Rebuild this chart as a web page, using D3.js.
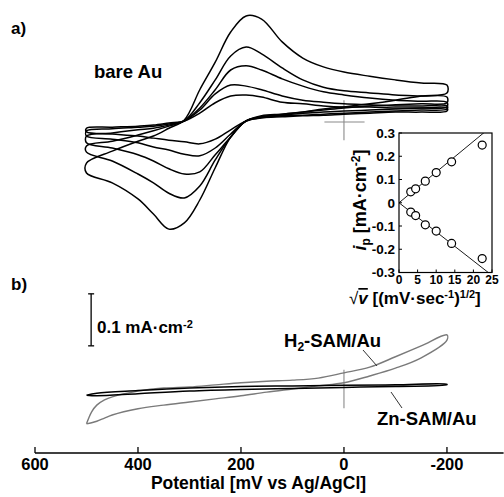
<!DOCTYPE html>
<html><head><meta charset="utf-8">
<script src="https://cdn.jsdelivr.net/npm/d3@7"></script>
<style>
html,body{margin:0;padding:0;background:#fff;}
text{font-family:"Liberation Sans",Arial,Helvetica,sans-serif;font-weight:bold;fill:#000;}
</style></head>
<body>
<svg id="chart" width="504" height="497"></svg>
<script>
// ---------- DATA ----------
// panel a) bare Au CVs, potential grid (mV) and current density (mA/cm2)
const eTop = [500, 450, 400, 370, 340, 310, 280, 250, 220, 190, 160, 120, 80, 40, 0, -50, -100, -150, -200];
const cv1Fwd = [-0.079,-0.056,-0.037,-0.027,-0.012,0.004,0.062,0.115,0.173,0.204,0.198,0.154,0.123,0.106,0.096,0.088,0.081,0.075,0.071];
const cv1Rev = [-0.098,-0.117,-0.148,-0.177,-0.206,-0.194,-0.150,-0.088,-0.029,0.002,0.010,0.015,0.019,0.025,0.029,0.035,0.042,0.050,0.056];
const cv2Fwd = [-0.046,-0.037,-0.025,-0.017,-0.008,0.002,0.037,0.081,0.127,0.144,0.131,0.104,0.081,0.067,0.060,0.056,0.052,0.050,0.048];
const cv2Rev = [-0.058,-0.075,-0.100,-0.117,-0.137,-0.146,-0.123,-0.073,-0.029,0.002,0.012,0.015,0.019,0.023,0.027,0.031,0.033,0.035,0.037];
const cv3Fwd = [-0.027,-0.021,-0.015,-0.012,-0.006,0.002,0.027,0.062,0.100,0.108,0.100,0.083,0.069,0.058,0.052,0.046,0.042,0.040,0.038];
const cv3Rev = [-0.040,-0.050,-0.063,-0.075,-0.090,-0.100,-0.096,-0.063,-0.029,0.002,0.010,0.013,0.017,0.019,0.021,0.023,0.025,0.027,0.029];
const cv4Fwd = [-0.017,-0.013,-0.010,-0.008,-0.004,0.002,0.023,0.054,0.071,0.069,0.062,0.050,0.042,0.038,0.035,0.033,0.031,0.031,0.031];
const cv4Rev = [-0.027,-0.033,-0.040,-0.048,-0.054,-0.062,-0.065,-0.050,-0.023,0.002,0.008,0.012,0.013,0.015,0.017,0.019,0.021,0.023,0.025];
const cv5Fwd = [-0.012,-0.010,-0.008,-0.006,-0.002,0.002,0.017,0.037,0.050,0.052,0.048,0.038,0.035,0.031,0.029,0.029,0.027,0.027,0.027];
const cv5Rev = [-0.019,-0.023,-0.027,-0.031,-0.035,-0.038,-0.042,-0.033,-0.015,0.002,0.008,0.010,0.012,0.013,0.015,0.017,0.019,0.019,0.021];

// panel b) SAM-modified electrodes
const eH2 = [500, 490, 480, 465, 450, 400, 350, 300, 250, 200, 150, 100, 50, 0, -50, -100, -150, -200];
const h2Fwd = [-0.067,-0.044,-0.031,-0.021,-0.015,-0.004,0.002,0.004,0.008,0.012,0.015,0.017,0.021,0.031,0.042,0.062,0.083,0.104];
const h2Rev = [-0.067,-0.065,-0.062,-0.056,-0.050,-0.038,-0.031,-0.025,-0.019,-0.013,-0.006,0.000,0.006,0.012,0.025,0.040,0.060,0.094];
const eZn = [500, 480, 400, 300, 200, 100, 0, -100, -200];
const znFwd = [-0.012,-0.008,-0.003,0.002,0.005,0.006,0.007,0.008,0.009];
const znRev = [-0.012,-0.013,-0.009,-0.004,-0.001,0.001,0.003,0.005,0.008];

// inset: peak current vs sqrt(scan rate)
const sqrtV = [3.16, 4.47, 7.07, 10, 14.14, 22.36];
const ipAnodic = [0.047, 0.060, 0.093, 0.130, 0.176, 0.248];
const ipCathodic = [-0.040, -0.055, -0.095, -0.122, -0.175, -0.240];
const fitSlopes = [0.0132, -0.0125];

// axis ticks
const xTicks = [600, 400, 200, 0, -200];
const xTickLabels = ["600", "400", "200", "0", "-200"];
const insetXTicks = [0, 5, 10, 15, 20, 25];
const insetYTicks = [0.3, 0.2, 0.1, 0, -0.1, -0.2, -0.3];
const insetYTickLabels = ["0.3", "0.2", "0.1", "0", "-0.1", "-0.2", "-0.3"];

// ---------- DRAW ----------
const svg = d3.select("#chart");
const x = d3.scaleLinear().domain([600, -310]).range([35, 503.6]);
const yA = d3.scaleLinear().domain([-0.1, 0.1]).range([174, 70]);
const yB = d3.scaleLinear().domain([-0.1, 0.1]).range([441, 337]);

// crosshairs (zero reference)
const cross = svg.append("g").attr("stroke", "#8a8a8a").attr("stroke-width", 1.1);
cross.append("line").attr("x1", x(38)).attr("x2", x(-40)).attr("y1", yA(0)).attr("y2", yA(0));
cross.append("line").attr("x1", x(0)).attr("x2", x(0)).attr("y1", yA(0.042)).attr("y2", yA(-0.035));
cross.append("line").attr("x1", x(0)).attr("x2", x(0)).attr("y1", yB(0.037)).attr("y2", yB(-0.037));

// panel a curves
const loopA = d3.line().x(d => x(d[0])).y(d => yA(d[1])).curve(d3.curveCatmullRomClosed.alpha(0.5));
const cvs = [[cv1Fwd, cv1Rev], [cv2Fwd, cv2Rev], [cv3Fwd, cv3Rev], [cv4Fwd, cv4Rev], [cv5Fwd, cv5Rev]];
cvs.forEach(([f, r]) => {
  const pts = eTop.map((e, i) => [e, f[i]]).concat(eTop.map((e, i) => [e, r[i]]).reverse());
  svg.append("path").attr("d", loopA(pts)).attr("fill", "none").attr("stroke", "#000").attr("stroke-width", 1.5);
});

// panel b curves
const lineB = d3.line().x(d => x(d[0])).y(d => yB(d[1])).curve(d3.curveCatmullRom.alpha(0.5));
const h2Pts = eH2.map((e, i) => [e, h2Fwd[i]]).concat(eH2.map((e, i) => [e, h2Rev[i]]).reverse());
svg.append("path").attr("d", lineB(h2Pts)).attr("fill", "none").attr("stroke", "#7a7a7a").attr("stroke-width", 1.4);
const znPts = eZn.map((e, i) => [e, znFwd[i]]).concat(eZn.map((e, i) => [e, znRev[i]]).reverse());
svg.append("path").attr("d", lineB(znPts)).attr("fill", "none").attr("stroke", "#000").attr("stroke-width", 1.5);

// leader lines
svg.append("line").attr("x1", 363).attr("y1", 350).attr("x2", 377).attr("y2", 366).attr("stroke", "#333").attr("stroke-width", 1);
svg.append("line").attr("x1", 391).attr("y1", 392).attr("x2", 402).attr("y2", 408).attr("stroke", "#333").attr("stroke-width", 1);

// scale bar 0.1 mA cm-2
const sb = svg.append("g").attr("stroke", "#000").attr("stroke-width", 1.3);
const sbE = 491;
sb.append("line").attr("x1", x(sbE)).attr("x2", x(sbE)).attr("y1", yB(0.183)).attr("y2", yB(0.083));
sb.append("line").attr("x1", x(sbE) - 3).attr("x2", x(sbE) + 3).attr("y1", yB(0.183)).attr("y2", yB(0.183));
sb.append("line").attr("x1", x(sbE) - 3).attr("x2", x(sbE) + 3).attr("y1", yB(0.083)).attr("y2", yB(0.083));
const sbt = svg.append("text").attr("x", 97).attr("y", 333).attr("font-size", 17);
sbt.append("tspan").text("0.1 mA\u00b7cm");
sbt.append("tspan").attr("font-size", 11).attr("dy", -5).text("-2");

// main x axis
const ax = svg.append("g");
ax.append("line").attr("x1", x(600)).attr("x2", x(-310)).attr("y1", 453).attr("y2", 453).attr("stroke", "#000").attr("stroke-width", 1.3);
xTicks.forEach((t, i) => {
  ax.append("line").attr("x1", x(t)).attr("x2", x(t)).attr("y1", 453).attr("y2", 447).attr("stroke", "#000").attr("stroke-width", 1.3);
  ax.append("text").attr("x", x(t)).attr("y", 470).attr("text-anchor", "middle").attr("font-size", 16.5).text(xTickLabels[i]);
});
svg.append("text").attr("x", 258.5).attr("y", 489).attr("text-anchor", "middle").attr("font-size", 17.5).text("Potential [mV vs Ag/AgCl]");

// panel labels
svg.append("text").attr("x", 11).attr("y", 34).attr("font-size", 17).text("a)");
svg.append("text").attr("x", 11).attr("y", 290).attr("font-size", 17).text("b)");
svg.append("text").attr("x", 94).attr("y", 78).attr("font-size", 18.5).text("bare Au");
const h2t = svg.append("text").attr("x", 284).attr("y", 347).attr("font-size", 18.5);
h2t.append("tspan").text("H");
h2t.append("tspan").attr("font-size", 12).attr("dy", 4).text("2");
h2t.append("tspan").attr("dy", -4).text("-SAM/Au");
svg.append("text").attr("x", 377).attr("y", 425).attr("font-size", 18.5).text("Zn-SAM/Au");

// ---------- INSET ----------
const xi = d3.scaleLinear().domain([0, 25]).range([399, 492]);
const yi = d3.scaleLinear().domain([-0.3, 0.3]).range([272.5, 133]);
const ins = svg.append("g");
ins.append("defs").append("clipPath").attr("id", "insclip")
  .append("rect").attr("x", xi(0)).attr("y", yi(0.3)).attr("width", xi(25) - xi(0)).attr("height", yi(-0.3) - yi(0.3));
ins.append("rect").attr("x", xi(0)).attr("y", yi(0.3)).attr("width", xi(25) - xi(0)).attr("height", yi(-0.3) - yi(0.3))
  .attr("fill", "#fff").attr("stroke", "#000").attr("stroke-width", 1.2);
insetYTicks.forEach((t, i) => {
  ins.append("line").attr("x1", xi(0)).attr("x2", xi(0) + 3).attr("y1", yi(t)).attr("y2", yi(t)).attr("stroke", "#000");
  ins.append("text").attr("x", xi(0) - 4).attr("y", yi(t)).attr("dy", "0.36em").attr("text-anchor", "end").attr("font-size", 13.5).text(insetYTickLabels[i]);
});
insetXTicks.forEach(t => {
  ins.append("line").attr("x1", xi(t)).attr("x2", xi(t)).attr("y1", yi(-0.3)).attr("y2", yi(-0.3) - 3).attr("stroke", "#000");
  ins.append("text").attr("x", xi(t)).attr("y", 284).attr("text-anchor", "middle").attr("font-size", 12).text(String(t));
});
fitSlopes.forEach(s => {
  ins.append("line").attr("clip-path", "url(#insclip)")
    .attr("x1", xi(0)).attr("y1", yi(0)).attr("x2", xi(27)).attr("y2", yi(27 * s))
    .attr("stroke", "#000").attr("stroke-width", 0.9);
});
[ipAnodic, ipCathodic].forEach(arr => {
  ins.selectAll(null).data(sqrtV.map((v, i) => [v, arr[i]])).enter().append("circle")
    .attr("cx", d => xi(d[0])).attr("cy", d => yi(d[1])).attr("r", 4)
    .attr("fill", "#fff").attr("stroke", "#000").attr("stroke-width", 1.2);
});
// inset y label
const iyl = ins.append("text").attr("transform", "translate(366,200) rotate(-90)").attr("text-anchor", "middle").attr("font-size", 18);
iyl.append("tspan").attr("font-style", "italic").text("i");
iyl.append("tspan").attr("font-size", 12).attr("dy", 4).text("p");
iyl.append("tspan").attr("dy", -4).text("  [mA\u00b7cm");
iyl.append("tspan").attr("font-size", 12).attr("dy", -6).text("-2");
iyl.append("tspan").attr("dy", 6).text("]");
// inset x label
const ixl = ins.append("text").attr("x", 349).attr("y", 304).attr("font-size", 17);
ixl.append("tspan").attr("font-weight", "normal").text("\u221a");
ixl.append("tspan").attr("font-style", "italic").attr("text-decoration", "overline").text("v");
ixl.append("tspan").text("  [(mV\u00b7sec");
ixl.append("tspan").attr("font-size", 11).attr("dy", -6).text("-1");
ixl.append("tspan").attr("dy", 6).text(")");
ixl.append("tspan").attr("font-size", 11).attr("dy", -6).text("1/2");
ixl.append("tspan").attr("dy", 6).text("]");
</script>
</body></html>
